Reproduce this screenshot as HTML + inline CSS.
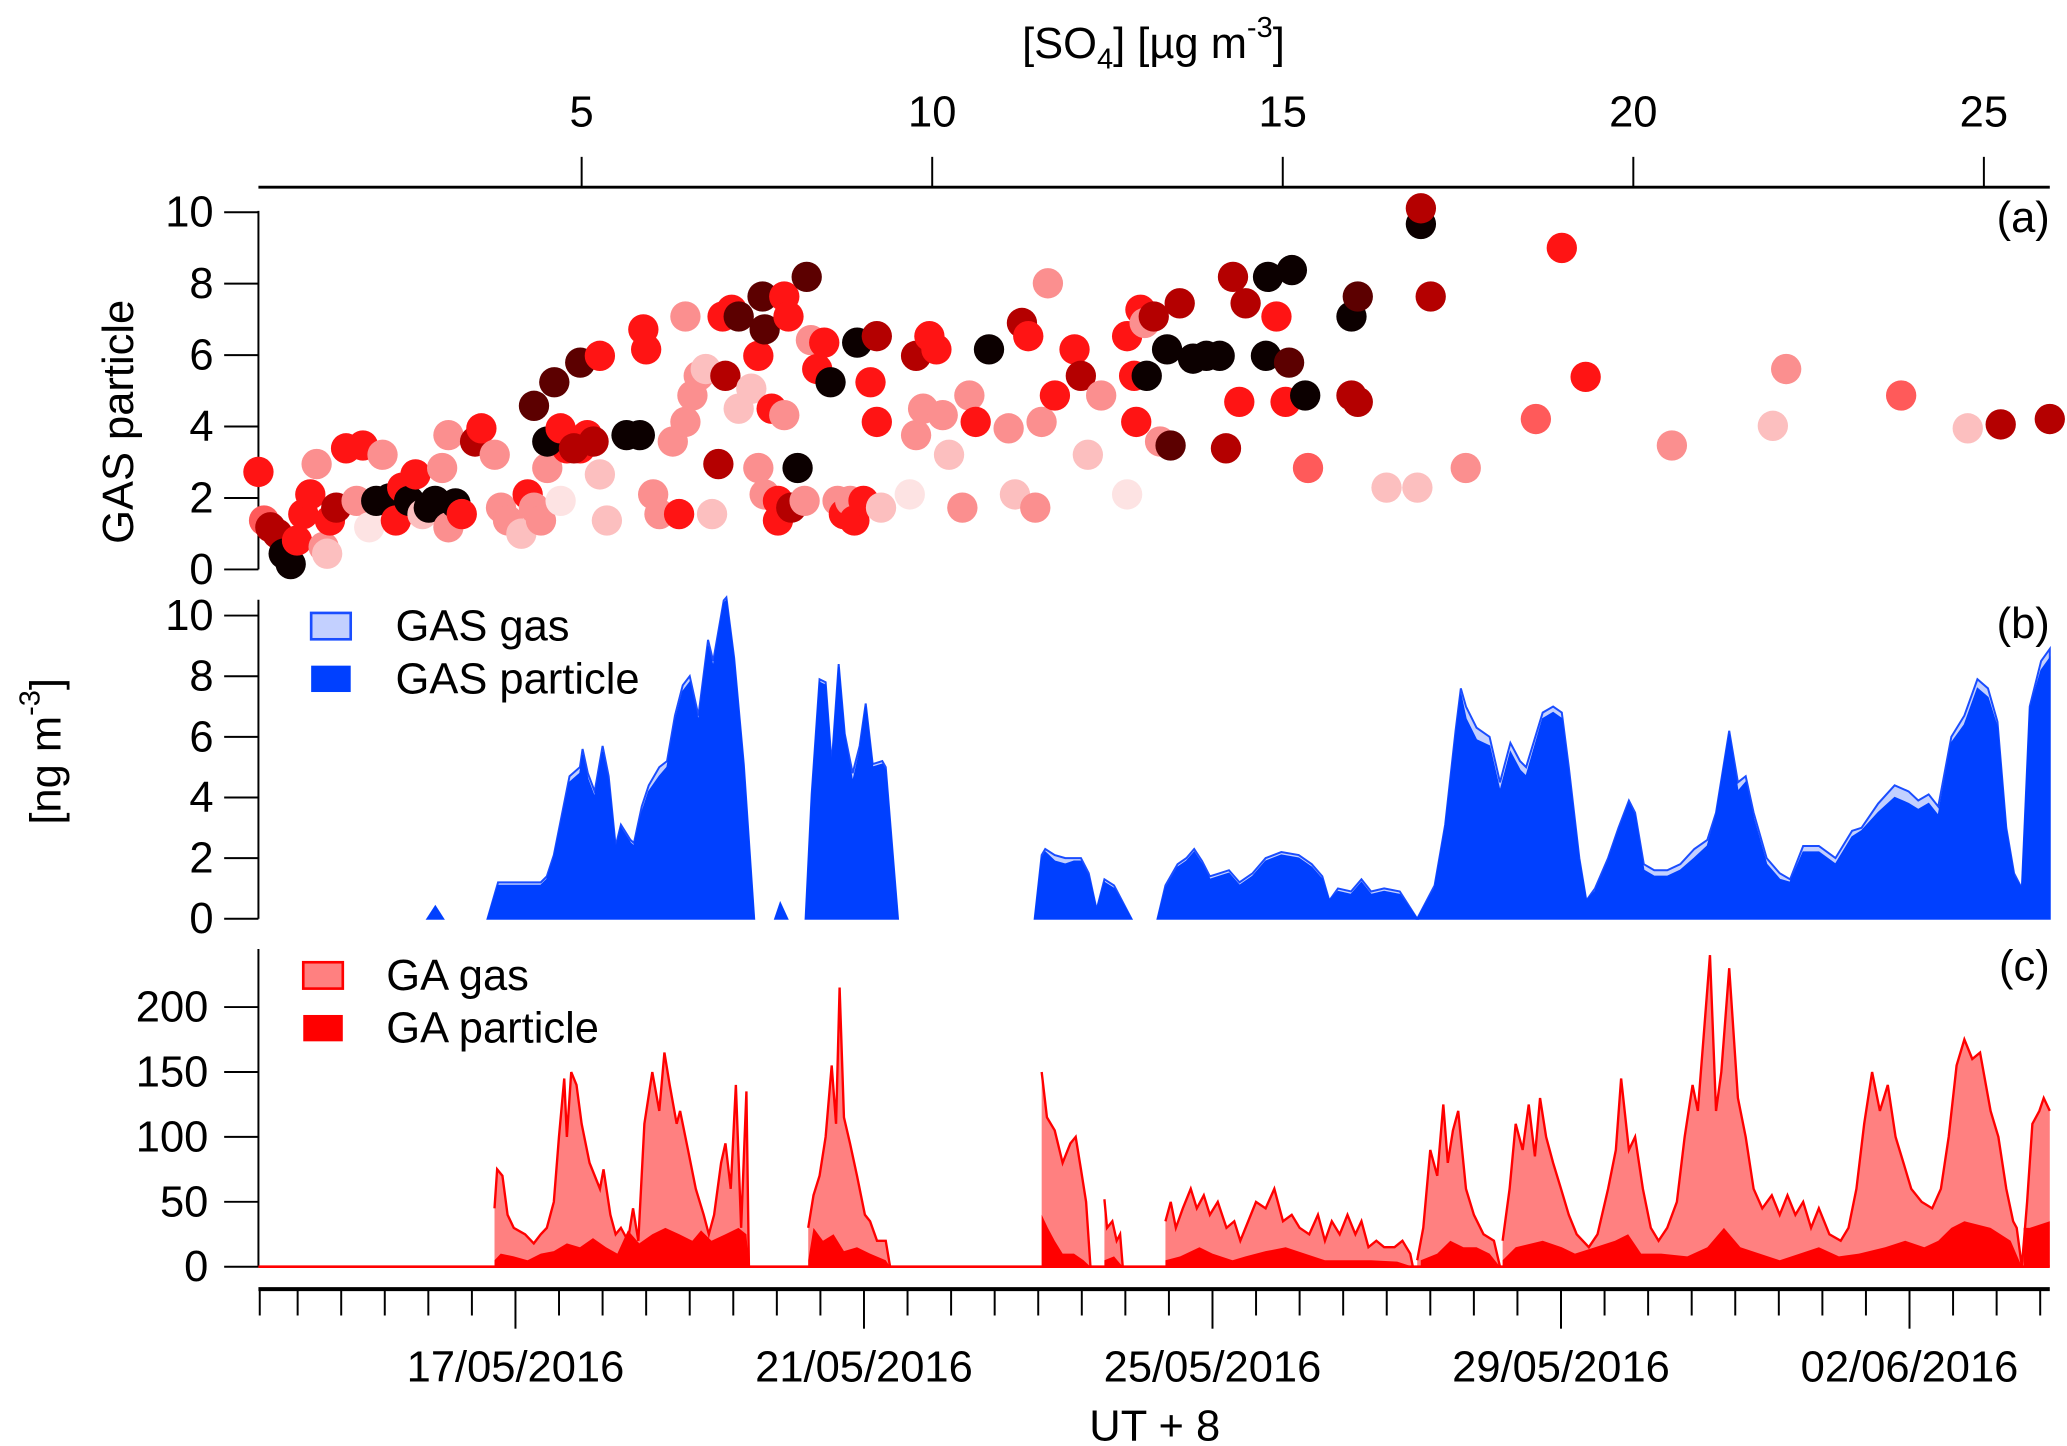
<!DOCTYPE html>
<html><head><meta charset="utf-8">
<style>
html,body{margin:0;padding:0;background:#fff;}
svg{display:block;font-family:"Liberation Sans",Arial,sans-serif;}
</style></head>
<body>
<svg id="chart" xmlns="http://www.w3.org/2000/svg" width="2067" height="1446" viewBox="0 0 1568 1097">
<rect x="0" y="0" width="1568" height="1097" fill="#fff"/>
<g id="layer"></g>
</svg>
<script>
// ---------- Panel (a) scatter data ----------
const so4 = [0.39,0.47,0.56,0.66,0.75,0.85,0.94,1.03,1.13,1.22,1.32,1.37,1.41,1.50,1.64,1.79,1.88,1.97,2.07,2.16,2.26,2.35,2.44,2.54,2.63,2.73,2.82,2.91,3.01,3.10,3.20,3.10,3.29,3.48,3.57,3.76,3.85,3.95,4.14,4.23,4.32,4.42,4.51,4.70,4.79,4.98,5.08,
4.32,4.51,4.61,4.70,4.89,4.98,5.17,5.26,5.36,5.26,5.64,5.83,5.88,5.92,6.02,6.11,6.30,6.39,6.48,6.48,6.58,6.67,6.77,6.86,6.95,7.01,7.05,7.14,7.24,7.24,7.42,7.52,7.52,7.58,7.61,7.61,7.71,7.80,7.80,7.89,7.89,7.95,7.99,8.08,8.18,8.21,8.27,8.36,8.46,8.55,8.65,8.74,8.83,8.89,8.93,9.02,9.12,9.21,9.21,9.27,9.68,9.77,9.77,9.87,9.96,10.06,10.15,10.24,10.43,10.53,10.62,10.81,11.09,11.18,11.28,11.37,11.47,11.56,11.65,11.75,12.03,12.12,12.22,12.41,12.78,12.78,12.88,12.91,12.97,13.03,13.06,13.16,13.25,13.35,13.40,13.53,13.72,13.91,14.10,14.19,14.29,14.38,14.47,14.76,14.79,14.91,15.04,15.09,15.13,15.32,15.36,15.98,15.98,16.07,16.07,16.48,16.92,16.97,16.97,17.11,17.61,18.61,18.98,19.32,20.55,21.99,22.18,23.82,24.77,25.24,25.94];
const gasPart = [2.73,1.37,1.18,1.0,0.44,0.15,0.81,1.55,2.1,2.95,0.63,0.44,1.37,1.73,3.39,1.92,3.47,1.18,1.92,3.21,1.99,1.37,2.29,1.92,2.66,1.55,1.73,1.92,2.84,1.18,1.85,3.76,1.55,3.58,3.95,3.21,1.73,1.37,1.0,2.1,1.73,1.37,2.84,1.92,3.39,3.39,3.76,
4.58,3.58,5.24,3.95,3.39,5.79,3.58,5.98,1.37,2.66,3.76,3.76,6.72,6.16,2.1,1.55,3.58,1.55,7.08,4.13,4.87,5.42,5.61,1.55,2.95,7.08,5.42,7.27,7.08,4.5,5.06,5.98,2.84,7.64,6.72,2.1,4.5,1.92,1.37,7.64,4.32,7.08,1.73,2.84,1.92,8.19,6.42,5.61,6.35,5.24,1.92,1.55,1.92,1.37,6.35,1.92,5.24,4.13,6.53,1.73,2.1,3.76,5.98,4.5,6.53,6.16,4.32,3.21,1.73,4.87,4.13,6.16,3.95,2.1,6.9,6.53,1.73,4.13,8.01,4.87,6.16,5.42,3.21,4.87,2.1,6.53,5.42,4.13,7.27,6.9,5.42,7.08,3.58,6.16,3.47,7.45,5.9,5.98,5.98,3.39,8.19,4.69,7.45,5.98,8.19,7.08,4.69,5.79,8.38,4.87,2.84,7.08,4.87,7.64,4.69,2.29,2.29,9.67,10.11,7.64,2.84,4.21,9.0,5.39,3.47,4.02,5.61,4.87,3.95,4.06,4.21];
const colorLevel = [4,3,5,5,7,7,4,4,4,2,2,1,4,5,4,2,4,0,7,2,7,4,4,7,4,1,7,7,2,2,7,2,4,5,4,2,2,2,1,4,2,2,2,0,4,4,4,
6,7,6,4,5,6,5,4,1,1,7,7,4,4,2,2,2,4,2,2,2,2,1,1,5,4,5,4,6,1,1,4,2,6,6,2,4,4,4,4,2,4,5,7,2,6,2,4,4,7,2,4,2,4,7,4,4,4,5,1,0,2,5,2,4,4,2,1,2,2,4,7,2,1,5,4,2,2,2,4,4,5,1,2,0,4,4,4,4,2,7,5,2,7,6,5,7,7,7,5,5,4,5,7,7,4,4,6,7,7,3,7,5,6,5,1,1,7,5,5,2,3,4,4,2,1,2,3,1,5,5];
const palette = ['#fde3e3','#fcbfbf','#fb8f8f','#ff5a5a','#ff1414','#b40000','#5c0000','#0c0000'];
const so4Ticks = [5,10,15,20,25];
const aTicks = [0,2,4,6,8,10];

// ---------- Panel (b) GAS gas/particle ----------
const bT = [15.99,16.08,16.17,null,
16.68,16.80,17.29,17.36,17.44,17.62,17.74,17.77,17.83,17.91,18.00,18.07,18.15,18.21,18.32,18.36,18.45,18.53,18.65,18.74,18.83,18.92,19.00,19.10,19.21,19.27,19.39,19.42,19.51,19.62,19.74,null,
19.98,20.04,20.12,null,
20.33,20.40,20.49,20.56,20.63,20.71,20.78,20.87,20.95,21.02,21.10,21.21,21.25,21.39,null,
22.96,23.04,23.08,23.19,23.31,23.41,23.49,23.58,23.67,23.76,23.87,24.07,null,
24.37,24.46,24.60,24.70,24.79,24.88,24.97,25.08,25.19,25.31,25.46,25.61,25.79,25.99,26.14,26.26,26.34,26.44,26.59,26.71,26.82,26.97,27.15,27.35,null,
27.35,27.55,27.67,27.79,27.85,27.91,28.03,28.18,28.30,28.42,28.53,28.60,28.79,28.91,29.01,29.09,29.21,29.29,29.39,29.54,29.66,29.78,29.85,29.95,30.07,30.22,30.37,30.53,30.68,30.78,30.93,31.03,31.12,31.21,31.36,31.51,31.63,31.78,31.96,32.15,32.34,32.45,32.64,32.83,32.99,33.10,33.22,33.33,33.48,33.63,33.78,33.90,34.01,34.11,34.20,34.29,34.38,34.51,34.61];
const bPart = [0,0.4,0,null,
0,1.1,1.1,1.3,2,4.5,4.8,5.4,4.6,4.0,5.5,4.5,2.3,3.0,2.5,2.4,3.5,4.2,4.7,5.0,6.5,7.5,7.8,6.5,9.0,8.3,10.4,10.5,8.5,5.0,0,null,
0,0.5,0,null,
0,4,7.8,7.7,5,8.3,6,4.5,5.5,7,5,5.1,4.9,0,null,
0,2,2.2,1.9,1.8,1.9,1.9,1.4,0.3,1.2,1.0,0,null,
0,1,1.7,1.9,2.2,1.8,1.3,1.4,1.5,1.1,1.4,1.9,2.1,2.0,1.7,1.3,0.6,0.9,0.8,1.2,0.8,0.9,0.8,0,null,
0,1,3,6,7.4,6.6,5.9,5.7,4.2,5.5,4.9,4.7,6.6,6.8,6.6,4.8,1.9,0.6,0.9,1.9,2.9,3.8,3.4,1.6,1.4,1.4,1.6,2.0,2.4,3.4,6.1,4.2,4.5,3.3,1.8,1.3,1.2,2.2,2.2,1.8,2.7,2.9,3.5,4.0,3.8,3.6,3.8,3.4,5.8,6.4,7.6,7.3,6.3,2.9,1.4,1,6.9,8.2,8.6];
const bGas = [0,0,0,null,
0,0.1,0.1,0.1,0.1,0.2,0.2,0.2,0.2,0.2,0.2,0.2,0.1,0.1,0.1,0.1,0.2,0.2,0.3,0.2,0.2,0.2,0.2,0.2,0.2,0.2,0.1,0.1,0.1,0.1,0,null,
0,0,0,null,
0,0.1,0.1,0.1,0.1,0.1,0.1,0.3,0.2,0.1,0.1,0.1,0.1,0,null,
0,0.1,0.1,0.2,0.2,0.1,0.1,0.1,0,0.1,0.1,0,null,
0,0.1,0.1,0.1,0.1,0.1,0.1,0.1,0.1,0.1,0.1,0.1,0.1,0.1,0.1,0.1,0,0.1,0.1,0.1,0.1,0.1,0.1,0,null,
0,0.1,0.1,0.2,0.2,0.4,0.4,0.3,0.3,0.3,0.3,0.3,0.2,0.2,0.2,0.2,0.1,0,0.1,0.1,0.1,0.1,0.1,0.2,0.2,0.2,0.2,0.3,0.2,0.1,0.1,0.3,0.2,0.2,0.2,0.2,0.1,0.2,0.2,0.2,0.2,0.1,0.3,0.4,0.4,0.3,0.3,0.3,0.2,0.3,0.3,0.3,0.2,0.1,0.1,0,0.1,0.3,0.3];
const bTicks = [0,2,4,6,8,10];

// ---------- Panel (c) GA gas/particle ----------
const cGasT = [16.76,16.79,16.85,16.91,16.98,17.11,17.21,17.29,17.36,17.44,17.50,17.56,17.59,17.64,17.70,17.76,17.85,17.97,18.01,18.09,18.15,18.21,18.29,18.35,18.41,18.48,18.57,18.65,18.71,18.77,18.85,18.89,18.98,19.07,19.16,19.22,19.28,19.36,19.41,19.47,19.53,19.59,19.65,19.68,null,
20.36,20.42,20.49,20.56,20.63,20.68,20.72,20.77,20.84,20.92,21.01,21.07,21.15,21.25,21.30,null,
23.04,23.10,23.19,23.28,23.37,23.43,23.49,23.55,23.60,null,
23.76,23.79,23.85,23.90,23.94,23.97,null,
24.46,24.52,24.58,24.66,24.75,24.82,24.90,24.97,25.06,25.16,25.25,25.32,25.41,25.50,25.61,25.71,25.81,25.91,26.00,26.11,26.21,26.29,26.37,26.46,26.55,26.64,26.71,26.79,26.88,26.97,27.09,27.18,27.27,27.30,null,
27.35,27.42,27.50,27.58,27.65,27.70,27.76,27.82,27.91,28.00,28.11,28.23,28.30,null,
28.33,28.41,28.48,28.56,28.63,28.70,28.76,28.83,28.91,29.00,29.09,29.18,29.32,29.42,29.54,29.63,29.69,29.78,29.85,29.94,30.03,30.12,30.22,30.33,30.42,30.51,30.57,30.71,30.78,30.84,30.93,31.03,31.12,31.21,31.31,31.42,31.51,31.60,31.69,31.78,31.87,31.96,32.08,32.21,32.30,32.39,32.48,32.57,32.66,32.75,32.84,32.93,33.02,33.14,33.26,33.36,33.45,33.54,33.63,33.72,33.81,33.93,34.02,34.11,34.19,34.23,34.29,34.35,34.41,34.49,34.54,34.61];
const cGasV = [45,75,70,40,30,25,18,25,30,50,100,145,100,150,140,110,80,60,75,40,25,30,20,45,20,110,150,120,165,140,110,120,90,60,40,25,40,80,95,60,140,30,135,0,null,
30,55,70,100,155,110,215,115,95,70,40,35,20,20,0,null,
150,115,105,80,95,100,75,50,0,null,
52,30,35,20,25,0,null,
35,50,30,45,60,45,55,40,50,30,35,20,35,50,45,60,35,40,30,25,40,20,35,25,40,25,35,15,20,15,15,20,10,0,null,
5,30,90,70,125,80,105,120,60,40,25,20,0,null,
20,60,110,90,125,85,130,100,80,60,40,25,15,25,60,90,145,90,100,60,30,20,30,50,100,140,120,240,120,150,230,130,100,60,45,55,40,55,40,50,30,45,25,20,30,60,110,150,120,140,100,80,60,50,45,60,100,155,175,160,165,120,100,60,35,30,0,50,110,120,130,120];
const cPartT = [16.76,16.83,16.98,17.14,17.29,17.44,17.59,17.74,17.89,18.04,18.17,18.29,18.42,18.57,18.72,18.88,19.03,19.13,19.25,19.41,19.56,19.65,19.68,null,
20.36,20.42,20.53,20.65,20.77,20.92,21.07,21.25,21.30,null,
23.04,23.11,23.19,23.28,23.41,23.52,23.60,null,
23.76,23.87,23.97,null,
24.46,24.63,24.85,25.00,25.23,25.38,25.61,25.84,26.06,26.29,26.52,26.82,27.12,27.30,null,
27.39,27.58,27.73,27.88,28.03,28.18,28.30,null,
28.33,28.48,28.79,29.01,29.16,29.39,29.62,29.77,29.92,30.15,30.45,30.68,30.87,31.06,31.28,31.51,31.74,31.96,32.19,32.42,32.72,32.95,33.17,33.33,33.48,33.63,33.93,34.16,34.29,null,
34.31,34.38,34.61];
const cPartV = [5,10,8,5,10,12,18,15,22,15,10,28,18,25,30,25,20,28,20,25,30,25,0,null,
5,30,20,25,12,15,10,5,0,null,
40,30,20,10,10,5,0,null,
5,8,0,null,
5,8,15,10,5,8,12,15,10,5,5,5,4,0,null,
5,10,20,15,15,10,0,null,
5,15,20,15,10,15,20,25,10,10,8,15,30,15,10,5,10,15,8,10,15,20,15,20,30,35,30,20,0,null,
30,30,35];
const cTicks = [0,50,100,150,200];
const dateTicks = [17,21,25,29,33];
const dateLabels = ['17/05/2016','21/05/2016','25/05/2016','29/05/2016','02/06/2016'];

// ---------- scales ----------
const L = 196, R = 1555;
const so4Min = 0.39, so4Max = 25.94;
const tMin = 14.05, tMax = 34.61;
function xs(v){ return L + (v - so4Min) / (so4Max - so4Min) * (R - L); }
function xt(d){ return L + (d - tMin) / (tMax - tMin) * (R - L); }
function ya(v){ return 432 - 27.1 * v; }
function yb(v){ return 697 - 23.0 * v; }
function yc(v){ return 961 - 0.985 * v; }

const NS = 'http://www.w3.org/2000/svg';
const layer = document.getElementById('layer');
function mk(tag, attrs, parent){
  const e = document.createElementNS(NS, tag);
  for (const k in attrs) e.setAttribute(k, attrs[k]);
  (parent || layer).appendChild(e);
  return e;
}
function txt(x, y, s, size, anchor, parent){
  const t = mk('text', {x:x, y:y, 'font-size':size, 'text-anchor':anchor || 'middle', fill:'#000'}, parent);
  t.textContent = s;
  return t;
}

// ---------- top axis ----------
let e = mk('line', {x1:L, y1:142, x2:R, y2:142, stroke:'#000', 'stroke-width':2.2});


so4Ticks.forEach(v => {
  const tk = mk('line', {x1:xs(v), y1:119, x2:xs(v), y2:142, stroke:'#000', 'stroke-width':1.5});
  
  
  const lb = txt(xs(v), 96, String(v), 33);
  
  
});
const title = mk('text', {x:875, y:44, 'font-size':33, 'text-anchor':'middle', fill:'#000'});


title.innerHTML = '[SO<tspan font-size="22" dy="8">4</tspan><tspan dy="-8">]  [µg m</tspan><tspan font-size="22" dy="-16">-3</tspan><tspan dy="16">]</tspan>';

// ---------- panel a ----------
e = mk('line', {x1:L, y1:160, x2:L, y2:432, stroke:'#000', 'stroke-width':1.5});


aTicks.forEach(v => {
  const tk = mk('line', {x1:170, y1:ya(v), x2:L, y2:ya(v), stroke:'#000', 'stroke-width':1.5});
  
  
  const lb = txt(162, ya(v) + 11, String(v), 33, 'end');
  
  
});
e = txt(0, 0, 'GAS particle', 33);
e.setAttribute('transform', 'translate(101,320) rotate(-90)');


e = txt(1555, 176, '(a)', 33, 'end');


const pts = mk('g', {});


for (let i = 0; i < Math.min(so4.length, gasPart.length); i++){
  const c = mk('circle', {cx:xs(so4[i]), cy:ya(gasPart[i]), r:11.5, fill:palette[colorLevel[i] || 0]}, pts);
  
  
}

// ---------- area helpers ----------
function segments(T, V){
  const segs = []; let cur = [];
  const n = Math.min(T.length, V.length);
  for (let i = 0; i < n; i++){
    if (T[i] === null || V[i] === null){ if (cur.length) segs.push(cur); cur = []; }
    else cur.push([T[i], V[i]]);
  }
  if (cur.length) segs.push(cur);
  return segs;
}
function areaPath(seg, ys){
  let d = 'M' + xt(seg[0][0]).toFixed(1) + ',' + ys(0).toFixed(1);
  seg.forEach(p => { d += 'L' + xt(p[0]).toFixed(1) + ',' + ys(p[1]).toFixed(1); });
  d += 'L' + xt(seg[seg.length-1][0]).toFixed(1) + ',' + ys(0).toFixed(1) + 'Z';
  return d;
}
function linePath(seg, ys){
  let d = '';
  seg.forEach((p, i) => { d += (i ? 'L' : 'M') + xt(p[0]).toFixed(1) + ',' + ys(p[1]).toFixed(1); });
  return d;
}

// ---------- panel b ----------
e = mk('line', {x1:L, y1:455, x2:L, y2:697, stroke:'#000', 'stroke-width':1.5});


bTicks.forEach(v => {
  const tk = mk('line', {x1:170, y1:yb(v), x2:L, y2:yb(v), stroke:'#000', 'stroke-width':1.5});
  
  
  const lb = txt(162, yb(v) + 11, String(v), 33, 'end');
  
  
});
const bTot = bPart.map((p, i) => (p === null || bGas[i] === null) ? null : p + bGas[i]);
segments(bT, bTot).forEach(s => {
  const p = mk('path', {d:areaPath(s, yb), fill:'#c3d0ff', stroke:'#1a4dff', 'stroke-width':1.5});
  
  
});
segments(bT, bPart).forEach(s => {
  const p = mk('path', {d:areaPath(s, yb), fill:'#0040ff', stroke:'#0040ff', 'stroke-width':1});
  
  
});
e = mk('text', {x:0, y:0, 'font-size':33, 'text-anchor':'middle', fill:'#000', transform:'translate(46,570) rotate(-90)'});


e.innerHTML = '[ng m<tspan font-size="22" dy="-16">-3</tspan><tspan dy="16">]</tspan>';
e = txt(1555, 484, '(b)', 33, 'end');


e = mk('rect', {x:236, y:465, width:30, height:20, fill:'#c3d0ff', stroke:'#1a4dff', 'stroke-width':2});


e = txt(300, 486, 'GAS gas', 33, 'start');


e = mk('rect', {x:236, y:505, width:30, height:20, fill:'#0040ff'});


e = txt(300, 526, 'GAS particle', 33, 'start');



// ---------- panel c ----------
e = mk('line', {x1:L, y1:720, x2:L, y2:961, stroke:'#000', 'stroke-width':1.5});


cTicks.forEach(v => {
  const tk = mk('line', {x1:170, y1:yc(v), x2:L, y2:yc(v), stroke:'#000', 'stroke-width':1.5});
  
  
  const lb = txt(158, yc(v) + 11, String(v), 33, 'end');
  
  
});
segments(cGasT, cGasV).forEach(s => {
  const p = mk('path', {d:areaPath(s, yc), fill:'#ff8080', stroke:'none'});
  
  
});
segments(cPartT, cPartV).forEach(s => {
  const p = mk('path', {d:areaPath(s, yc), fill:'#ff0000', stroke:'none'});
  
  
});
e = mk('line', {x1:L, y1:yc(0), x2:R, y2:yc(0), stroke:'#ff0000', 'stroke-width':2});


segments(cGasT, cGasV).forEach(s => {
  const p = mk('path', {d:linePath(s, yc), fill:'none', stroke:'#ff0000', 'stroke-width':1.8});
  
  
});
e = txt(1555, 744, '(c)', 33, 'end');


e = mk('rect', {x:230, y:730, width:30, height:20, fill:'#ff8080', stroke:'#ff0000', 'stroke-width':2});


e = txt(293, 751, 'GA gas', 33, 'start');


e = mk('rect', {x:230, y:770, width:30, height:20, fill:'#ff0000'});


e = txt(293, 791, 'GA particle', 33, 'start');



// ---------- time axis ----------
e = mk('line', {x1:L, y1:978, x2:R, y2:978, stroke:'#000', 'stroke-width':3});


for (let d = 14.0; d <= tMax + 0.001; d += 0.5){
  const x = Math.max(L + 1, xt(d));
  const major = dateTicks.indexOf(d) >= 0;
  const tk = mk('line', {x1:x, y1:978, x2:x, y2:major ? 1008 : 998, stroke:'#000', 'stroke-width':1.5});
  
  
}
dateTicks.forEach((d, i) => {
  const lb = txt(xt(d), 1048, dateLabels[i], 33);
  
  
});
e = txt(876, 1093, 'UT + 8', 33);


</script>
</body></html>
